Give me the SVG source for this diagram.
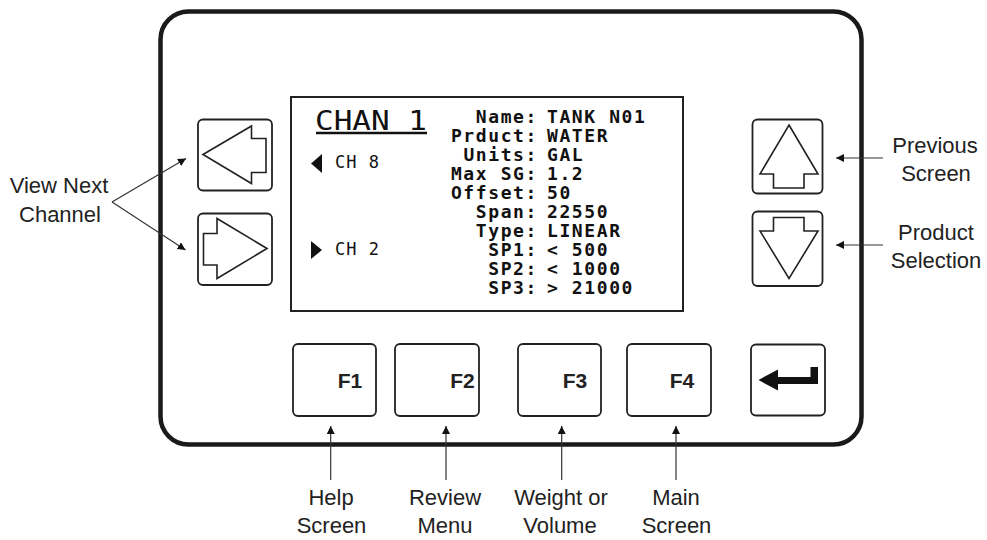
<svg xmlns="http://www.w3.org/2000/svg" width="987" height="540" viewBox="0 0 987 540">
<style>
.lbl{font-family:"Liberation Sans",Arial,sans-serif;font-size:22px;fill:#222;text-anchor:middle}
.fk{font-family:"Liberation Sans",Arial,sans-serif;font-size:21px;font-weight:bold;fill:#222;text-anchor:middle}
.key{fill:#fff;stroke:#222;stroke-width:1.8}
.glyph{fill:#fff;stroke:#222;stroke-width:1.6;stroke-linejoin:miter}
.lcd{font-family:"DejaVu Sans Mono",monospace;font-size:18px;font-weight:bold;fill:#111;letter-spacing:1.6px}
.lcdk{text-anchor:end}
.lcdt{font-family:"DejaVu Sans Mono",monospace;font-size:17px;fill:#111;letter-spacing:1px}
.ptr{stroke:#333;stroke-width:1.2;fill:none}
</style>
<defs>
<marker id="ah" viewBox="0 0 10 10" refX="10" refY="5" markerWidth="8" markerHeight="8" markerUnits="userSpaceOnUse" orient="auto">
<path d="M0,0 L10,5 L0,10 Z" fill="#111"/>
</marker>
</defs>
<rect width="987" height="540" fill="#fff"/>

<g id="panel">
<rect x="160.5" y="11.5" width="701" height="433" rx="28" ry="28" fill="none" stroke="#1a1a1a" stroke-width="4.5"/>
</g>

<g id="screen">
<rect x="291" y="97" width="392" height="214" fill="#fff" stroke="#222" stroke-width="2"/>
<text x="315" y="129.5" textLength="112" lengthAdjust="spacingAndGlyphs" style="font-family:'DejaVu Sans Mono',monospace;font-size:27px;fill:#111">CHAN 1</text>
<line x1="316" y1="133" x2="427" y2="133" stroke="#111" stroke-width="2.5"/>
<path d="M322,154 L322,173 L311,163.5 Z" fill="#111"/>
<text class="lcdt" x="335" y="168">CH 8</text>
<path d="M311,241 L311,259 L322,250 Z" fill="#111"/>
<text class="lcdt" x="335" y="255">CH 2</text>
<g class="lcd">
<text class="lcdk" x="538" y="123">Name:</text><text x="547" y="123">TANK N01</text>
<text class="lcdk" x="538" y="142">Prduct:</text><text x="547" y="142">WATER</text>
<text class="lcdk" x="538" y="161">Units:</text><text x="547" y="161">GAL</text>
<text class="lcdk" x="538" y="180">Max SG:</text><text x="547" y="180">1.2</text>
<text class="lcdk" x="538" y="199">Offset:</text><text x="547" y="199">50</text>
<text class="lcdk" x="538" y="218">Span:</text><text x="547" y="218">22550</text>
<text class="lcdk" x="538" y="237">Type:</text><text x="547" y="237">LINEAR</text>
<text class="lcdk" x="538" y="256">SP1:</text><text x="547" y="256">&lt; 500</text>
<text class="lcdk" x="538" y="275">SP2:</text><text x="547" y="275">&lt; 1000</text>
<text class="lcdk" x="538" y="294">SP3:</text><text x="547" y="294">&gt; 21000</text>
</g>
</g>

<g id="key-left">
<rect class="key" x="198" y="119.5" width="74" height="71" rx="5"/>
<path class="glyph" d="M203,154.5 L251.5,126 L251.5,138.5 L266,138.5 L266,172.5 L251.5,172.5 L251.5,183.5 Z"/>
</g>
<g id="key-right">
<rect class="key" x="198" y="213.5" width="74" height="71.5" rx="5"/>
<path class="glyph" d="M267,248.5 L217,218.5 L217,233.5 L203.5,233.5 L203.5,265 L217,265 L217,278.5 Z"/>
</g>
<g id="key-up">
<rect class="key" x="752.5" y="119.5" width="70" height="74" rx="5"/>
<path class="glyph" d="M789,125 L818,174 L804,174 L804,188 L773.5,188 L773.5,174 L760,174 Z"/>
</g>
<g id="key-down">
<rect class="key" x="752.5" y="211.5" width="70" height="74.5" rx="5"/>
<path class="glyph" d="M773.5,217.5 L804,217.5 L804,231 L818,231 L789,278.5 L760,231 L773.5,231 Z"/>
</g>

<g id="key-f1"><rect class="key" x="293" y="344" width="83" height="72" rx="5"/><text class="fk" x="350" y="388">F1</text></g>
<g id="key-f2"><rect class="key" x="395" y="344" width="84" height="72" rx="5"/><text class="fk" x="462.5" y="388">F2</text></g>
<g id="key-f3"><rect class="key" x="518" y="344" width="83" height="72" rx="5"/><text class="fk" x="575" y="388">F3</text></g>
<g id="key-f4"><rect class="key" x="627" y="344" width="84" height="72" rx="5"/><text class="fk" x="682" y="388">F4</text></g>
<g id="key-enter">
<rect class="key" x="751" y="344.5" width="74" height="71" rx="5"/>
<path d="M758.5,380 L778,369.5 L778,377 L810.5,377 L810.5,367 L818,367 L818,384 L778,384 L778,390.5 Z" fill="#111"/>
</g>

<g id="connectors">
<line class="ptr" x1="112" y1="202" x2="186" y2="158.5" marker-end="url(#ah)"/>
<line class="ptr" x1="112" y1="202" x2="185.5" y2="250" marker-end="url(#ah)"/>
<line class="ptr" x1="883" y1="158" x2="836" y2="158" marker-end="url(#ah)"/>
<line class="ptr" x1="883" y1="245" x2="836" y2="245" marker-end="url(#ah)"/>
<line class="ptr" x1="330.7" y1="480" x2="330.7" y2="426" marker-end="url(#ah)"/>
<line class="ptr" x1="446" y1="480" x2="446" y2="426" marker-end="url(#ah)"/>
<line class="ptr" x1="561.7" y1="480" x2="561.7" y2="426" marker-end="url(#ah)"/>
<line class="ptr" x1="676" y1="480" x2="676" y2="426" marker-end="url(#ah)"/>
</g>

<g id="label-view-next"><text class="lbl" x="59" y="193">View Next</text><text class="lbl" x="60" y="221.5">Channel</text></g>
<g id="label-previous"><text class="lbl" x="935" y="153">Previous</text><text class="lbl" x="936" y="181">Screen</text></g>
<g id="label-product"><text class="lbl" x="936" y="240">Product</text><text class="lbl" x="936" y="268">Selection</text></g>
<g id="label-help"><text class="lbl" x="331" y="505">Help</text><text class="lbl" x="331.5" y="533">Screen</text></g>
<g id="label-review"><text class="lbl" x="445" y="505">Review</text><text class="lbl" x="445" y="533">Menu</text></g>
<g id="label-weight"><text class="lbl" x="561" y="505">Weight or</text><text class="lbl" x="560" y="533">Volume</text></g>
<g id="label-main"><text class="lbl" x="676" y="505">Main</text><text class="lbl" x="676.5" y="533">Screen</text></g>
</svg>
